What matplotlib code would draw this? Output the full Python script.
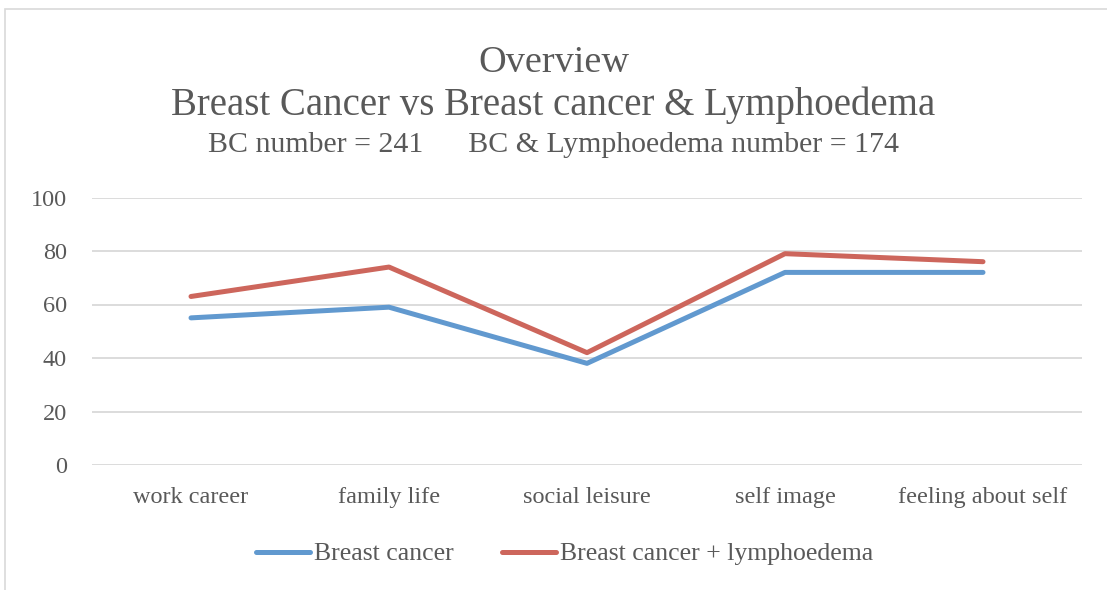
import matplotlib
matplotlib.use('Agg')
import matplotlib.pyplot as plt
from matplotlib.patches import Rectangle

plt.rcParams['font.family'] = ['Liberation Serif', 'DejaVu Serif']

categories = ['work career', 'family life', 'social leisure', 'self image', 'feeling about self']
breast_cancer = [55, 59, 38, 72, 72]
bc_lymphoedema = [63, 74, 42, 79, 76]
series_names = ['Breast cancer', 'Breast cancer + lymphoedema']
title_lines = ['Overview',
               'Breast Cancer vs Breast cancer & Lymphoedema',
               'BC number = 241      BC & Lymphoedema number = 174']
y_ticks = [0, 20, 40, 60, 80, 100]

text_col = '#595959'
grid_col = '#D9D9D9'

fig = plt.figure(figsize=(11.07, 5.9), dpi=100)
# chart area border (right/bottom edges fall outside the picture)
fig.patches.append(Rectangle((5 / 1107, -0.1), 1.2, 0.1 + 1 - 9 / 590, transform=fig.transFigure,
                             fill=False, edgecolor='#D9D9D9', linewidth=1.2))

ax = fig.add_axes([92 / 1107, 1 - 465 / 590, 990 / 1107, 267.5 / 590])
x = list(range(len(categories)))
ax.plot(x, breast_cancer, color='#6199CF', linewidth=3.6, solid_capstyle='round', label=series_names[0])
ax.plot(x, bc_lymphoedema, color='#CD665C', linewidth=3.6, solid_capstyle='round', label=series_names[1])

ax.set_xlim(-0.5, len(categories) - 0.5)
ax.set_ylim(0, 100)
ax.set_yticks(y_ticks)
ax.set_xticks(x)
ax.set_xticklabels(categories)
ax.tick_params(axis='both', length=0, labelsize=17.5, colors=text_col)
ax.tick_params(axis='x', pad=16)
ax.tick_params(axis='y', pad=18)
ax.grid(axis='y', color=grid_col, linewidth=1.3)
ax.set_axisbelow(True)
for s in ax.spines.values():
    s.set_visible(False)

fig.text(0.5, 1 - 63 / 590, title_lines[0], ha='center', va='center', fontsize=27.5, color=text_col)
fig.text(0.5, 1 - 105 / 590, title_lines[1], ha='center', va='center', fontsize=28, color=text_col)
fig.text(0.5, 1 - 145 / 590, title_lines[2], ha='center', va='center', fontsize=21.5, color=text_col)

leg = fig.legend(loc='center', bbox_to_anchor=(0.51, 1 - 554 / 590), ncol=2, frameon=False,
                 fontsize=18.5, handlelength=2.1, handletextpad=0.15, columnspacing=1.9)
for t in leg.get_texts():
    t.set_color(text_col)

plt.savefig('out.png', dpi=100)
